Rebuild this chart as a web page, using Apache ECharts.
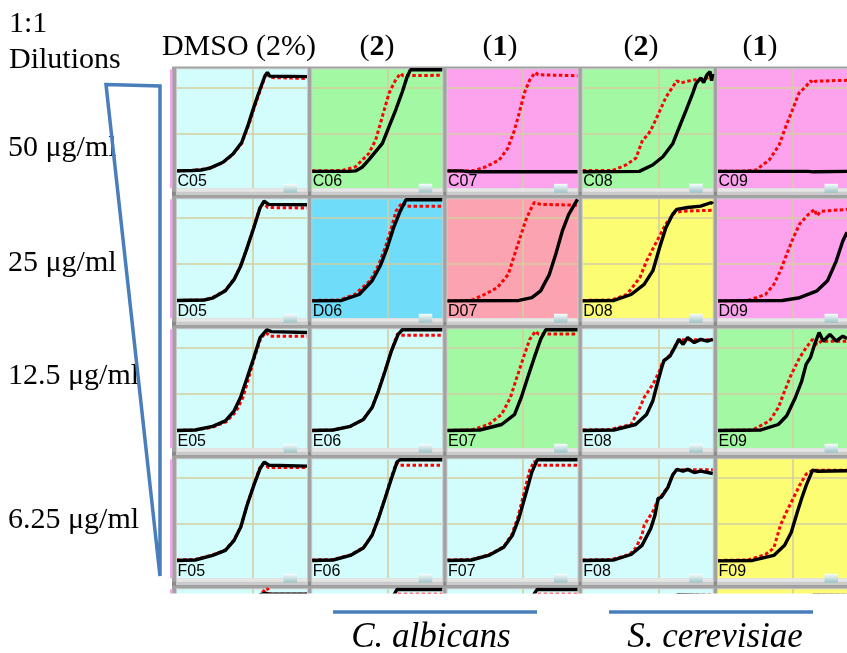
<!DOCTYPE html>
<html><head><meta charset="utf-8">
<script src="https://cdn.jsdelivr.net/npm/echarts@6/dist/echarts.min.js"></script>
<style>html,body{margin:0;padding:0;background:#fff}#c{width:847px;height:653px}</style>
</head><body><div id="c"></div>
<script>
// ---------------- DATA (time in h, optical density) ----------------
const rowIds = ['C','D','E','F','G'];
const colIds = ['05','06','07','08','09'];
const dilutionTitle = ['1:1','Dilutions'];
const colHeaders = ['DMSO (2%)','(2)','(1)','(2)','(1)'];
const rowLabels = ['50 μg/ml','25 μg/ml','12.5 μg/ml','6.25 μg/ml'];
const speciesLabels = ['C. albicans','S. cerevisiae'];
const gridTimes = [25];
const gridOD = [1.2, 2.2];

const C05_red = [[0,0.38],[5,0.39],[8,0.41],[11,0.45],[15.2,0.56],[18.5,0.74],[21.4,0.98],[23.8,1.40],[25.4,1.73],[27.1,2.06],[29.1,2.44],[29.7,2.52],[30.7,2.42],[43,2.40]];
const C05_black = [[0,0.38],[5,0.39],[8,0.40],[10.9,0.44],[15.2,0.57],[18.5,0.75],[21.4,1.0],[23.6,1.40],[25.2,1.73],[26.9,2.06],[29.1,2.46],[29.9,2.53],[30.7,2.45],[43,2.44]];
const C06_red = [[0,0.38],[10,0.39],[14.3,0.47],[18.7,0.76],[21,1.06],[23.2,1.57],[25.4,2.08],[27.6,2.37],[29.2,2.51],[30,2.46],[43,2.47]];
const C06_black = [[0,0.37],[12,0.37],[14.3,0.38],[16.5,0.46],[18.7,0.62],[23.2,0.98],[25.4,1.35],[27.6,1.71],[29.8,2.11],[31.4,2.44],[32.5,2.59],[43,2.59]];
const C07_red = [[0,0.38],[6,0.38],[9,0.39],[12.7,0.47],[17.1,0.62],[19.9,0.87],[22,1.24],[23.7,1.64],[25.4,2.08],[27.2,2.37],[29,2.53],[30,2.48],[43,2.46]];
const C07_black = [[0,0.38],[5,0.38],[7,0.36],[43,0.36]];
const C08_red = [[0,0.39],[9.9,0.39],[14.3,0.51],[17.6,0.66],[19.8,1.06],[21.5,1.16],[23.1,1.35],[25.4,1.68],[27.6,2.0],[29.8,2.22],[31.1,2.35],[32.5,2.30],[34,2.33],[38.6,2.39],[43,2.43]];
const C08_black = [[0,0.36],[18.7,0.37],[23.1,0.51],[26.5,0.69],[29.8,0.98],[32,1.35],[34.2,1.71],[36.4,2.08],[37.5,2.29],[39.1,2.41],[40,2.31],[41,2.47],[42.1,2.55],[42.6,2.35],[43,2.5]];
const C09_red = [[0,0.37],[7.2,0.37],[12.7,0.40],[17.1,0.62],[20.4,0.95],[22.6,1.35],[24.8,1.71],[27,2.08],[29.2,2.22],[30.9,2.35],[31.6,2.30],[32.5,2.34],[43,2.36]];
const C09_black = [[0,0.37],[30,0.37],[32,0.36],[43,0.37]];

const D05_red = [[0,0.39],[9,0.40],[11.7,0.45],[16,0.61],[18.9,0.86],[21,1.14],[23.2,1.55],[25.4,1.99],[27.3,2.40],[28.6,2.52],[30,2.42],[43,2.41]];
const D05_black = [[0,0.39],[9,0.40],[11.7,0.44],[16,0.60],[18.9,0.85],[21,1.13],[23.2,1.54],[25.4,1.98],[27.5,2.42],[28.8,2.56],[30.3,2.49],[43,2.48]];
const D06_red = [[0,0.39],[9,0.40],[14,0.52],[19.1,0.82],[21.9,1.16],[24.1,1.54],[26.2,1.98],[27.7,2.34],[29.8,2.53],[31,2.45],[43,2.45]];
const D06_black = [[0,0.38],[9.7,0.39],[15.5,0.52],[19.8,0.82],[22.6,1.16],[24.8,1.54],[26.9,1.98],[29.1,2.34],[31,2.59],[43,2.59]];
const D07_red = [[0,0.38],[7.9,0.39],[12.2,0.52],[16.5,0.67],[20.1,0.96],[22.2,1.40],[24.4,1.84],[25.8,2.13],[27.2,2.34],[28.7,2.53],[30.8,2.49],[43,2.47]];
const D07_black = [[0,0.38],[23.6,0.39],[27.9,0.45],[30.8,0.60],[33.7,0.96],[35.8,1.40],[38,1.91],[40.1,2.27],[43,2.6]];
const D08_red = [[0,0.39],[9.5,0.40],[14.6,0.52],[18.9,0.89],[21.1,1.25],[23.9,1.61],[27.5,2.06],[30.4,2.31],[33,2.34],[43,2.36]];
const D08_black = [[0,0.38],[10.3,0.39],[16,0.52],[20.3,0.74],[23.2,1.04],[25.4,1.54],[27.5,1.98],[29.7,2.27],[31.1,2.38],[34.7,2.42],[39,2.45],[42.6,2.53],[43,2.5]];
const D09_red = [[0,0.38],[10,0.39],[15.8,0.52],[18.6,0.74],[20.8,1.04],[22.9,1.40],[25.1,1.76],[27.2,2.06],[30.1,2.27],[32.2,2.38],[32.9,2.24],[34.4,2.34],[43,2.38]];
const D09_black = [[0,0.38],[21.5,0.39],[27.2,0.45],[33,0.60],[36.5,0.82],[39.4,1.25],[41.6,1.69],[43,1.88]];

const E05_red = [[0,0.39],[6,0.40],[11.8,0.46],[16.3,0.58],[19.5,0.80],[21.8,1.11],[23.7,1.54],[25.6,1.98],[27.7,2.40],[29.4,2.53],[30.8,2.45],[43,2.45]];
const E05_black = [[0,0.39],[6,0.40],[11.8,0.48],[16,0.60],[18.9,0.82],[21,1.11],[23.2,1.54],[25.4,1.98],[27.5,2.42],[29.7,2.59],[31.2,2.55],[43,2.53]];
const E06_red = [[0,0.39],[6.9,0.40],[12.6,0.48],[16.9,0.63],[19.8,0.90],[21.9,1.26],[24.1,1.70],[26.2,2.14],[28.2,2.50],[29.2,2.47],[43,2.47]];
const E06_black = [[0,0.39],[6.9,0.40],[12.6,0.48],[16.9,0.63],[19.8,0.89],[21.9,1.25],[24.1,1.69],[26.2,2.13],[28.4,2.49],[29.8,2.59],[43,2.59]];
const E07_red = [[0,0.39],[7.9,0.40],[13.6,0.52],[17.9,0.74],[20.8,1.11],[22.9,1.54],[25.1,1.98],[27.2,2.38],[29.1,2.56],[30,2.50],[43,2.50]];
const E07_black = [[0,0.39],[10.7,0.40],[17.9,0.52],[22.2,0.74],[24.4,1.11],[26.5,1.54],[28.7,1.98],[30.8,2.38],[32.5,2.59],[43,2.59]];
const E08_red = [[0,0.40],[9,0.41],[16,0.52],[18.9,0.89],[20.3,1.11],[23.2,1.40],[25.4,1.69],[26.5,1.90],[28.9,2.04],[30.4,2.22],[31.8,2.37],[43,2.37]];
const E08_black = [[0,0.39],[10.3,0.40],[17.5,0.52],[21.1,0.74],[23.2,1.04],[24.6,1.40],[26.1,1.76],[26.8,1.91],[28.9,2.02],[30.4,2.20],[31.8,2.38],[33.2,2.27],[34.7,2.42],[36.9,2.31],[39,2.38],[41.2,2.34],[43,2.38]];
const E09_red = [[0,0.39],[11.5,0.40],[17.2,0.60],[20.1,0.89],[22.2,1.25],[24.4,1.61],[27.2,1.98],[29.4,2.20],[31.5,2.38],[33,2.27],[34.4,2.34],[43,2.34]];
const E09_black = [[0,0.39],[14.3,0.40],[20.1,0.52],[22.9,0.71],[25.8,1.11],[27.9,1.47],[29.4,1.84],[30.8,1.98],[32.2,2.27],[33.7,2.53],[35.1,2.34],[37.3,2.49],[39.4,2.34],[41.6,2.45],[43,2.40]];

const F05_red = [[0,0.40],[6,0.41],[11.8,0.51],[16,0.62],[18.9,0.84],[21.1,1.13],[23.2,1.61],[25.4,2.04],[27.3,2.40],[28.6,2.52],[30.2,2.42],[43,2.42]];
const F05_black = [[0,0.39],[6,0.40],[11.8,0.50],[16,0.61],[18.9,0.83],[21.1,1.12],[23.2,1.60],[25.4,2.03],[27.5,2.40],[28.9,2.54],[30.4,2.47],[43,2.45]];
const F06_red = [[0,0.40],[6.9,0.41],[12.6,0.51],[16.9,0.67],[19.8,0.95],[21.9,1.32],[24.1,1.76],[26,2.18],[27.8,2.52],[28.8,2.47],[43,2.47]];
const F06_black = [[0,0.39],[6.9,0.40],[12.6,0.50],[16.9,0.66],[19.8,0.94],[21.9,1.31],[24.1,1.75],[26.2,2.18],[28.1,2.55],[29.1,2.59],[43,2.59]];
const F07_red = [[0,0.40],[7.9,0.41],[13.6,0.51],[18.6,0.69],[21.3,0.96],[23.3,1.34],[25.3,1.86],[27.2,2.36],[28.7,2.56],[29.6,2.47],[43,2.47]];
const F07_black = [[0,0.39],[7.9,0.40],[13.6,0.50],[18.6,0.68],[21.5,0.94],[23.6,1.31],[25.8,1.82],[27.9,2.32],[29.7,2.59],[43,2.59]];
const F08_red = [[0,0.40],[9.5,0.41],[15.5,0.52],[17.5,0.66],[19.6,0.94],[20.3,1.16],[23.2,1.46],[24.6,1.67],[26.5,1.85],[28.2,2.0],[29.7,2.26],[31.1,2.37],[43,2.37]];
const F08_black = [[0,0.39],[10.3,0.40],[16,0.52],[19.6,0.72],[22.5,1.09],[23.9,1.38],[24.9,1.74],[26,1.77],[28.2,1.99],[29.7,2.25],[31.1,2.38],[33.2,2.34],[34.7,2.38],[36.9,2.31],[39,2.34],[43,2.29]];
const F09_red = [[0,0.39],[10,0.40],[15.8,0.52],[18.6,0.66],[20.8,1.16],[22.9,1.46],[25.1,1.75],[27.2,2.03],[29.4,2.28],[31.5,2.36],[43,2.36]];
const F09_black = [[0,0.38],[11.5,0.39],[18.6,0.50],[22.2,0.72],[24.4,1.0],[26.5,1.46],[27.9,1.75],[29.4,2.03],[31.5,2.36],[33,2.34],[43,2.35]];

const G05_red = [[0,0.40],[7,0.41],[12,0.51],[16,0.63],[19,0.86],[21,1.16],[23.3,1.62],[25.5,2.06],[28,2.45],[29.8,2.66],[30.8,2.40],[43,2.40]];
const G05_black = [[0,0.39],[7,0.40],[12,0.5],[16,0.62],[19,0.85],[21,1.15],[23.3,1.6],[25.5,2.05],[27.6,2.38],[29.2,2.44],[30.5,2.40],[43,2.40]];
const G06_red = [[0,0.40],[7,0.41],[12.5,0.51],[17,0.67],[19.8,0.95],[22,1.32],[24.2,1.77],[26.1,2.2],[27.8,2.42],[28.8,2.40],[43,2.40]];
const G06_black = [[0,0.39],[7,0.40],[12.5,0.5],[17,0.66],[19.8,0.94],[22,1.31],[24.2,1.76],[26.3,2.2],[28,2.59],[43,2.59]];
const G07_red = [[0,0.40],[8,0.41],[14,0.51],[19,0.69],[21.8,0.96],[23.6,1.34],[25.6,1.86],[27.5,2.30],[29,2.42],[30,2.40],[43,2.40]];
const G07_black = [[0,0.39],[8,0.40],[14,0.5],[19,0.68],[22,0.94],[24,1.31],[26.2,1.82],[28.2,2.32],[29.6,2.59],[43,2.59]];
const G08_red = [[0,0.40],[9.5,0.41],[15.5,0.52],[18,0.68],[20,0.95],[23.5,1.45],[26.5,1.86],[29.7,2.26],[31.5,2.37],[43,2.37]];
const G08_black = [[0,0.39],[10,0.40],[16,0.52],[20,0.72],[23,1.09],[24.5,1.4],[26,1.75],[28.5,2.0],[30,2.25],[31.5,2.38],[43,2.34]];
const G09_red = [[0,0.39],[10,0.40],[16,0.52],[19,0.66],[21,1.16],[25.4,1.75],[29.6,2.28],[31.8,2.36],[43,2.36]];
const G09_black = [[0,0.38],[12,0.39],[19,0.50],[22.5,0.72],[24.7,1.0],[26.8,1.46],[29.7,2.03],[31.8,2.36],[43,2.35]];

const wellCurves = {
  C05:[C05_red,C05_black], C06:[C06_red,C06_black], C07:[C07_red,C07_black], C08:[C08_red,C08_black], C09:[C09_red,C09_black],
  D05:[D05_red,D05_black], D06:[D06_red,D06_black], D07:[D07_red,D07_black], D08:[D08_red,D08_black], D09:[D09_red,D09_black],
  E05:[E05_red,E05_black], E06:[E06_red,E06_black], E07:[E07_red,E07_black], E08:[E08_red,E08_black], E09:[E09_red,E09_black],
  F05:[F05_red,F05_black], F06:[F06_red,F06_black], F07:[F07_red,F07_black], F08:[F08_red,F08_black], F09:[F09_red,F09_black],
  G05:[G05_red,G05_black], G06:[G06_red,G06_black], G07:[G07_red,G07_black], G08:[G08_red,G08_black], G09:[G09_red,G09_black]
};

// ---------------- STYLE / LAYOUT ----------------
const PAL = {lc:'#d3fdfd', gr:'#a3f8a3', mg:'#fda3ee', bl:'#6fdcfa', pk:'#fca3b2', ye:'#fdfd73'};
const wellBg = {
  C05:'lc',C06:'gr',C07:'mg',C08:'gr',C09:'mg',
  D05:'lc',D06:'bl',D07:'pk',D08:'ye',D09:'mg',
  E05:'lc',E06:'lc',E07:'gr',E08:'lc',E09:'gr',
  F05:'lc',F06:'lc',F07:'lc',F08:'lc',F09:'ye',
  G05:'lc',G06:'lc',G07:'lc',G08:'lc',G09:'ye'
};
const L0 = 177, PX = 135.25, T0 = 69.3, PY = 130, PW = 130, PH = 119;
const X_MAX = 43, Y_MAX = 2.6;
const headerX = [239, 377, 500, 641, 760];
const rowLabelY = [148, 263, 376, 520];
const SERIF = '"Liberation Serif", "Times New Roman", serif';
const BLUE = '#4a7ebb';

const grids = [], xAxes = [], yAxes = [], series = [], gfx = [];
gfx.push({type:'rect', shape:{x:172, y:66.5, width:847-172, height:594-66.5}, style:{fill:'#a2a2a2'}, z:-10, silent:true});

let gi = 0;
rowIds.forEach((r, ri) => {
  const T = T0 + PY*ri;
  gfx.push({type:'rect', shape:{x:170, y:T, width:2.5, height:PH}, style:{fill:'#f2a6ea'}, z:-9, silent:true});
  gfx.push({type:'rect', shape:{x:172, y:T+PH+3.5, width:847-172, height:4}, style:{fill:'#8a8a8a'}, z:-9, silent:true});
  colIds.forEach((c, ci) => {
    const id = r + c;
    const L = L0 + PX*ci;
    grids.push({left:L, top:T, width:PW, height:PH, show:true, backgroundColor:PAL[wellBg[id]], borderWidth:0, containLabel:false});
    xAxes.push({type:'value', gridIndex:gi, min:0, max:X_MAX, show:false});
    yAxes.push({type:'value', gridIndex:gi, min:0, max:Y_MAX, show:false});
    const [red, black] = wellCurves[id];
    series.push({type:'line', name:id+' control', xAxisIndex:gi, yAxisIndex:gi, data:red, symbol:'none', silent:true, z:10,
      lineStyle:{color:'#ff0000', width:3, type:[3.5,2.5], cap:'butt'},
      markLine:{silent:true, symbol:'none', animation:false, label:{show:false}, z:2,
        lineStyle:{color:'#d4cea0', width:1.6, type:'solid'},
        data: gridOD.map(v=>({yAxis:v})).concat(gridTimes.map(v=>({xAxis:v})))}});
    series.push({type:'line', name:id, xAxisIndex:gi, yAxisIndex:gi, data:black, symbol:'none', silent:true, z:11,
      lineStyle:{color:'#000000', width:3.4}});
    // frame details
    gfx.push({type:'rect', shape:{x:L-1, y:T-1, width:PW+2, height:PH+8}, style:{fill:'#cbcbcb'}, z:-8, silent:true});
    gfx.push({type:'rect', shape:{x:L, y:T+PH, width:PW, height:3.5}, style:{fill:'#e6e6e6'}, z:50, silent:true});
    gfx.push({type:'rect', shape:{x:L+106.5, y:T+114.5, width:13.5, height:9},
      style:{fill:{type:'linear', x:0, y:0, x2:0, y2:1, colorStops:[{offset:0,color:'#f8ffff'},{offset:1,color:'#9cc2c5'}]}}, z:51, silent:true});
    gfx.push({type:'text', x:L+0.5, y:T+PH+1, style:{text:id, font:'16px "Liberation Sans", Arial, sans-serif', fill:'#000',
      textAlign:'left', align:'left', textVerticalAlign:'bottom', verticalAlign:'bottom'}, z:52, silent:true});
    gi++;
  });
});

// white area below the cropped panel rows
gfx.push({type:'rect', shape:{x:160, y:593.5, width:700, height:70}, style:{fill:'#ffffff'}, z:90, silent:true});

function txt(x, y, text, size, extra) {
  return Object.assign({type:'text', x, y, z:100, silent:true,
    style:Object.assign({text, font:size+'px '+SERIF, fill:'#000', textAlign:'left', align:'left',
      textVerticalAlign:'middle', verticalAlign:'middle'}, extra||{})});
}
gfx.push(txt(9, 24, dilutionTitle[0], 30));
gfx.push(txt(9, 60, dilutionTitle[1], 30));
colHeaders.forEach((h, i) => {
  const m = h.match(/^\((\d)\)$/);
  if (m) {
    gfx.push({type:'text', x:headerX[i], y:47, z:100, silent:true,
      style:{text:'{n|(}{b|'+m[1]+'}{n|)}', textAlign:'center', align:'center', textVerticalAlign:'middle', verticalAlign:'middle',
        rich:{n:{fontSize:30, fontFamily:SERIF, fill:'#000', color:'#000'}, b:{fontSize:30, fontWeight:'bold', fontFamily:SERIF, fill:'#000', color:'#000'}}}});
  } else {
    gfx.push(txt(headerX[i], 47, h, 30, {textAlign:'center', align:'center'}));
  }
});
rowLabels.forEach((t, i) => gfx.push(txt(8, rowLabelY[i], t, 30)));
gfx.push(txt(431, 638, speciesLabels[0], 35, {textAlign:'center', align:'center', font:'italic 35px '+SERIF}));
gfx.push(txt(715, 638, speciesLabels[1], 35, {textAlign:'center', align:'center', font:'italic 35px '+SERIF}));
// blue markers
gfx.push({type:'line', shape:{x1:333, y1:612, x2:537, y2:612}, style:{stroke:BLUE, lineWidth:3.5}, z:100, silent:true});
gfx.push({type:'line', shape:{x1:609, y1:612, x2:813, y2:612}, style:{stroke:BLUE, lineWidth:3.5}, z:100, silent:true});
gfx.push({type:'polygon', shape:{points:[[106,84.5],[160,86],[160,576]]}, style:{fill:'none', stroke:BLUE, lineWidth:3.5, lineJoin:'miter'}, z:100, silent:true});

const chart = echarts.init(document.getElementById('c'), null, {renderer:'canvas'});
chart.setOption({
  animation:false,
  backgroundColor:'#ffffff',
  grid:grids, xAxis:xAxes, yAxis:yAxes, series,
  graphic:{elements:gfx}
});
</script></body></html>
